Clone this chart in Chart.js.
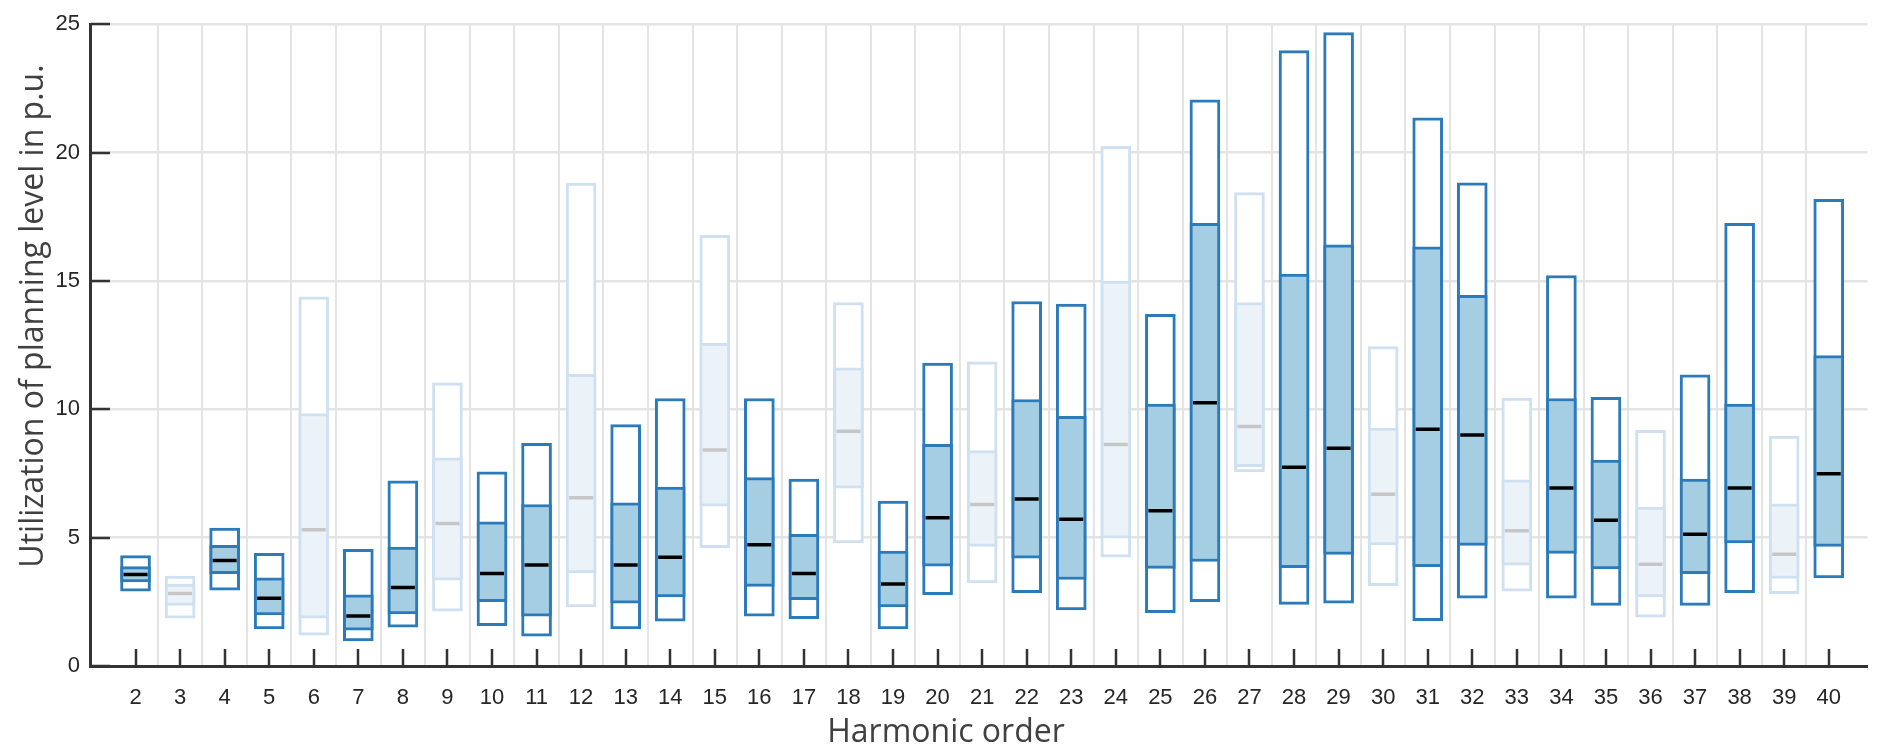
<!DOCTYPE html>
<html>
<head>
<meta charset="utf-8">
<script src="https://cdn.jsdelivr.net/npm/chart.js@4.4.1/dist/chart.umd.min.js"></script>
<style>
html,body{margin:0;padding:0;background:#fff;overflow:hidden}
#wrap{width:1883px;height:747px;position:relative}
</style>
</head>
<body>
<div id="wrap"><canvas id="c"></canvas></div>
<script>
// ---- data ----
const orders  = [2,3,4,5,6,7,8,9,10,11,12,13,14,15,16,17,18,19,20,21,22,23,24,25,26,27,28,29,30,31,32,33,34,35,36,37,38,39,40];
const maxVals = [4.30,3.50,5.37,4.39,14.38,4.54,7.21,11.03,7.56,8.67,18.81,9.40,10.42,16.78,10.42,7.28,14.16,6.42,11.80,11.85,14.20,14.10,20.24,13.70,22.05,18.44,23.97,24.67,12.44,21.35,18.82,10.44,15.21,10.47,9.18,11.34,17.24,8.96,18.18];
const q3Vals  = [3.87,3.19,4.70,3.43,9.83,2.77,4.63,8.11,5.62,6.29,11.36,6.36,6.97,12.57,7.34,5.13,11.61,4.48,8.63,8.39,10.38,9.73,14.99,10.20,17.24,14.16,15.27,16.41,9.27,16.33,14.44,7.25,10.42,8.02,6.19,7.28,10.20,6.32,12.09];
const medVals = [3.56,2.82,4.11,2.64,5.31,1.95,3.06,5.55,3.60,3.93,6.55,3.93,4.24,8.41,4.72,3.60,9.14,3.19,5.77,6.29,6.51,5.72,8.63,6.05,10.25,9.33,7.74,8.48,6.69,9.22,9.00,5.27,6.93,5.68,3.96,5.13,6.93,4.35,7.49];
const q1Vals  = [3.28,2.36,3.60,1.99,1.86,1.40,2.03,3.34,2.51,1.94,3.63,2.45,2.69,6.23,3.10,2.58,6.93,2.30,3.89,4.66,4.20,3.37,4.98,3.80,4.07,7.76,3.83,4.35,4.72,3.87,4.70,3.93,4.39,3.78,2.69,3.60,4.79,3.41,4.66];
const minVals = [2.91,1.86,2.95,1.44,1.20,0.98,1.51,2.14,1.57,1.16,2.30,1.44,1.75,4.61,1.94,1.84,4.79,1.44,2.78,3.24,2.86,2.18,4.24,2.08,2.51,7.56,2.40,2.45,3.13,1.77,2.64,2.91,2.64,2.36,1.90,2.36,2.86,2.82,3.43];
const fadedOrders = [3,6,9,12,15,18,21,24,27,30,33,36,39];
const yTicks = [0,5,10,15,20,25];
const xTitle = 'Harmonic order';
const yTitle = 'Utilization of planning level in p.u.';

// ---- styling ----
const C = {
  dark: '#2b7bba', iqr: '#a6cee3', med: '#000000',
  fBorder: '#cfe1f1', fFill: '#ebf3f9', fMed: '#c6c6c6',
  grid: '#e4e4e4', axis: '#333333', text: '#262626'
};
const isFaded = orders.map(o => fadedOrders.includes(o));
const pick = (a, b) => isFaded.map(f => f ? b : a);
const gridPositions = orders.slice(0, -1).map(o => o + 0.5);
const tickFont = {family: "'Liberation Sans', Arial, sans-serif", size: 22, lineHeight: 1.2};
const xTitleFont = {family: "'Open Sans', sans-serif", size: 32, lineHeight: 0.25};
const yTitleFont = {family: "'Open Sans', sans-serif", size: 32, lineHeight: 0.625};

const innerTicks = {
  id: 'innerTicks',
  afterDraw(chart) {
    const {ctx, chartArea: {left, bottom}, scales: {x, y}} = chart;
    ctx.save();
    ctx.strokeStyle = C.axis;
    ctx.lineWidth = 2.5;
    ctx.beginPath();
    orders.forEach(v => { const px = Math.round(x.getPixelForValue(v)); ctx.moveTo(px, bottom); ctx.lineTo(px, bottom - 17); });
    yTicks.forEach(v => { const py = Math.round(y.getPixelForValue(v)); ctx.moveTo(left, py); ctx.lineTo(left + 19, py); });
    ctx.stroke();
    ctx.restore();
  }
};

new Chart(document.getElementById('c'), {
  type: 'bar',
  data: {
    datasets: [
      {
        type: 'line', label: 'Median', xAxisID: 'x', yAxisID: 'y', order: 0,
        data: orders.map((o, i) => ({x: o, y: medVals[i]})),
        showLine: false, pointStyle: 'line', pointRadius: 12, pointHoverRadius: 12,
        pointBorderWidth: 3.5, pointBorderColor: pick(C.med, C.fMed), borderColor: pick(C.med, C.fMed)
      },
      {
        type: 'bar', label: 'Interquartile range', xAxisID: 'x', yAxisID: 'y', order: 1,
        data: orders.map((o, i) => ({x: o, y: [q1Vals[i], q3Vals[i]]})),
        backgroundColor: pick(C.iqr, C.fFill), borderColor: pick(C.dark, C.fBorder),
        borderWidth: 3, borderSkipped: false, barThickness: 30, grouped: false
      },
      {
        type: 'bar', label: 'Range', xAxisID: 'x', yAxisID: 'y', order: 2,
        data: orders.map((o, i) => ({x: o, y: [minVals[i], maxVals[i]]})),
        backgroundColor: '#ffffff', borderColor: pick(C.dark, C.fBorder),
        borderWidth: 3, borderSkipped: false, barThickness: 30, grouped: false
      }
    ]
  },
  options: {
    responsive: true, maintainAspectRatio: false, animation: false, devicePixelRatio: 1,
    layout: {padding: {top: 19, right: 0, bottom: 0, left: 0}},
    plugins: {legend: {display: false}, tooltip: {enabled: false}},
    scales: {
      x: {
        type: 'linear', position: 'bottom', min: 1.0, max: 40.87, offset: false,
        afterBuildTicks: axis => { axis.ticks = orders.map(v => ({value: v})); },
        ticks: {font: tickFont, color: C.text, padding: 18.3, autoSkip: false, maxRotation: 0, callback: v => String(v)},
        grid: {display: false, drawTicks: false, offset: false},
        border: {display: true, color: C.axis, width: 3},
        title: {display: true, text: xTitle + '        ', font: xTitleFont, color: '#404040', padding: {top: 0, bottom: 10}}
      },
      xg: {
        type: 'linear', axis: 'x', position: 'bottom', min: 1.0, max: 40.87, offset: false,
        afterBuildTicks: axis => { axis.ticks = gridPositions.map(v => ({value: v})); },
        ticks: {display: false},
        grid: {color: C.grid, lineWidth: 2, drawTicks: false, offset: false},
        border: {display: false}
      },
      y: {
        type: 'linear', position: 'left', min: 0, max: 25,
        afterBuildTicks: axis => { axis.ticks = yTicks.map(v => ({value: v})); },
        ticks: {font: tickFont, color: C.text, padding: 11},
        grid: {color: C.grid, lineWidth: 2.5, drawTicks: false},
        border: {display: true, color: C.axis, width: 3},
        title: {display: true, text: '       ' + yTitle, font: yTitleFont, color: '#404040', padding: {top: 23.5, bottom: 1}}
      }
    }
  },
  plugins: [innerTicks]
});
</script>
</body>
</html>
